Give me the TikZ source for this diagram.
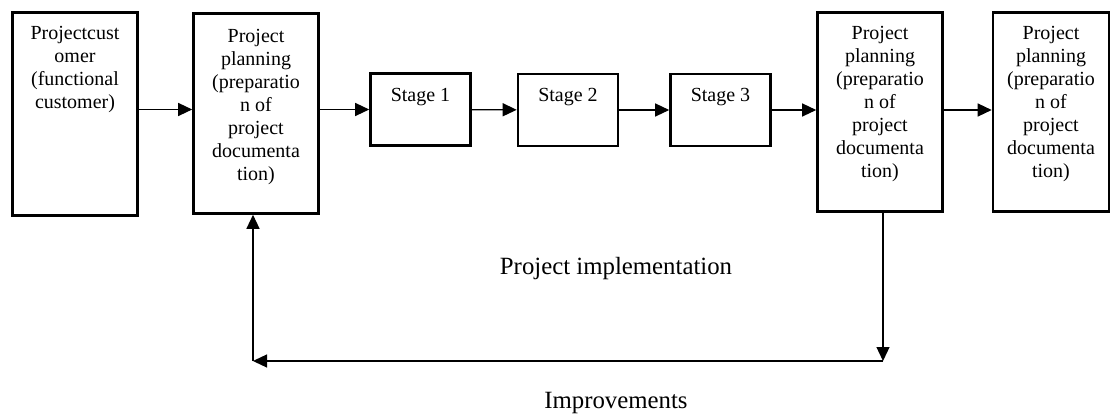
\documentclass[tikz,border=0pt]{standalone}
\usepackage{fontspec}
\setmainfont{Liberation Serif}
\usetikzlibrary{arrows.meta}

\newcommand{\toptext}[4]{\parbox[t][#2][t]{#1}{\centering\rule{0pt}{#3}#4}}

\begin{document}
\begin{tikzpicture}[x=1pt,y=-1pt,
  box node/.style={draw,line width=2.6pt,inner sep=0pt,font=\fontsize{20}{23}\selectfont},
  conn/.style={line width=1.3pt,-{Triangle[length=14pt,width=13pt]}},
  note/.style={anchor=base,font=\fontsize{24.8}{28}\selectfont}]

  \useasboundingbox (0,0) rectangle (1112,414);

  \node[box node] (cust) at (75,114) {\toptext{125pt}{203pt}{27pt}{Projectcust\\omer\\(functional\\customer)}};
  \node[box node] (plan1) at (256,113.5) {\toptext{125pt}{200pt}{29pt}{Project\\planning\\(preparatio\\n of\\project\\documenta\\tion)}};
  \node[box node] (stage1) at (420.5,109.5) {\toptext{100pt}{72pt}{28pt}{Stage 1}};
  \node[box node] (stage2) at (568,110) {\toptext{100pt}{72pt}{28pt}{Stage 2}};
  \node[box node] (stage3) at (720.5,110) {\toptext{100pt}{72pt}{28pt}{Stage 3}};
  \node[box node] (plan2) at (880,112) {\toptext{125pt}{199pt}{27pt}{Project\\planning\\(preparatio\\n of\\project\\documenta\\tion)}};
  \node[box node] (plan3) at (1051,112) {\toptext{116pt}{199pt}{27pt}{Project\\planning\\(preparatio\\n of\\project\\documenta\\tion)}};

  \coordinate (fbr) at (883,361);
  \coordinate (fbl) at (253,361);

  \node[note] (impl) at (616,275) {Project implementation};
  \node[note] (impr) at (616,408) {Improvements};

  \draw[conn] (cust.east |- stage1) -- (plan1.west |- stage1);
  \draw[conn] (plan1.east |- stage1) -- (stage1.west);
  \draw[conn] (stage1) -- (stage2);
  \draw[conn] (stage2) -- (stage3);
  \draw[conn] (stage3.east) -- (plan2.west |- stage3);
  \draw[conn] (plan2.east |- stage3) -- (plan3.west |- stage3);
  \draw[conn] (plan2.south -| fbr) -- (fbr);
  \draw[conn] (fbr) -- (fbl);
  \draw[conn] (fbl) -- (fbl |- plan1.south);
\end{tikzpicture}
\end{document}
